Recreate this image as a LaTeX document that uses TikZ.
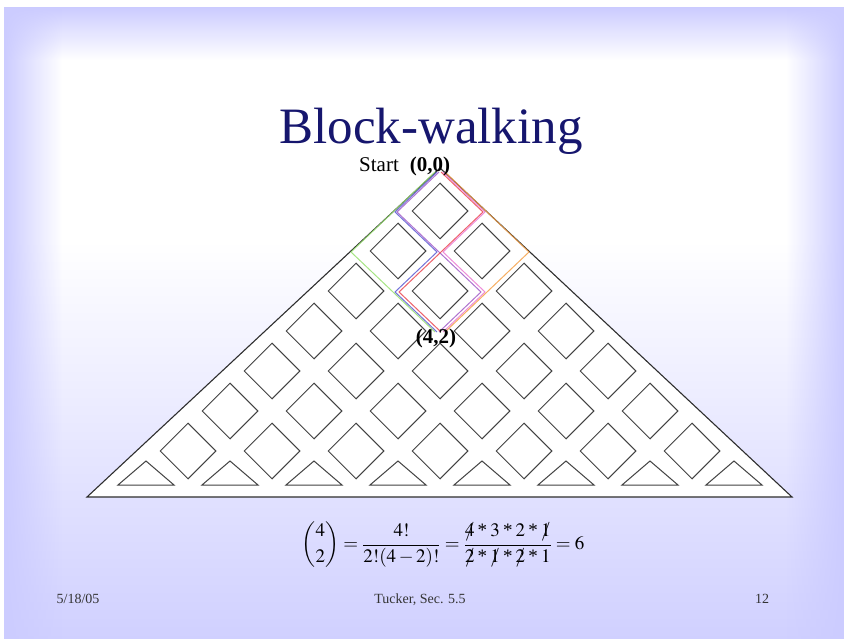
\documentclass[tikz,border=0pt]{standalone}
\usepackage{amsmath}
\usepackage{mathptmx}
\usepackage{fontspec}
\setmainfont{Liberation Serif}
\usetikzlibrary{shapes.geometric, fadings}
\definecolor{lav}{RGB}{204,204,255}
\definecolor{titleblue}{RGB}{22,22,110}
\definecolor{gridgray}{RGB}{66,66,66}
\definecolor{walkgreen}{RGB}{150,225,110}
\definecolor{walkblue}{RGB}{90,90,210}
\definecolor{walkpurple}{RGB}{160,90,200}
\definecolor{walkred}{RGB}{235,70,80}
\definecolor{walkpink}{RGB}{235,120,210}
\definecolor{walkorange}{RGB}{245,160,70}
\tikzfading[name=faderight, left color=transparent!0, right color=transparent!100]
\tikzfading[name=fadeleft, left color=transparent!100, right color=transparent!0]
\tikzset{block/.style={diamond,draw=gridgray,fill=white,line width=1pt,inner sep=0pt,minimum width=56pt,minimum height=56pt},
  halfblock/.style={draw=gridgray,fill=white,line width=1pt},
  walk/.style={line width=1pt,opacity=0.85},
  lbl/.style={inner sep=0pt,font=\fontsize{21}{24}\selectfont\bfseries},
  footer/.style={inner sep=0pt,text=black!80,font=\fontsize{14}{16}\selectfont}}
\newcommand\crossout[1]{\mbox{\ooalign{$#1$\cr\hfil$/$\hfil\cr}}}
\newcommand\tm{\mbox{\,*\,}}

\begin{document}
\begin{tikzpicture}[x=1pt,y=-1pt]
\useasboundingbox (0,0) rectangle (844,639);
% slide background
\fill[lav] (4,8) rectangle (844,639);
\shade[top color=lav, bottom color=white] (4,8) rectangle (844,60);
\fill[white] (4,60) rectangle (844,240);
\shade[top color=white, bottom color=lav!92!white] (4,240) rectangle (844,639);
\fill[lav, path fading=faderight] (4,8) rectangle (62,639);
\fill[lav, path fading=fadeleft] (786,8) rectangle (844,639);

\node[text=titleblue, font=\fontsize{51}{60}\selectfont, anchor=base, inner sep=0pt] (title) at (431,144) {Block-walking};

% the city
\draw[gridgray!70!black, fill=white, line width=1.1pt, line join=miter] (440,168) -- (792,497) -- (87,497) -- cycle;
\foreach \r in {0,...,6}{
  \foreach \j in {0,...,\r}{
    \pgfmathsetmacro\cx{440+(2*\j-\r)*42}
    \pgfmathsetmacro\cy{211+40*\r}
    \node[block] (d-\r-\j) at (\cx,\cy) {};
  }
}
\foreach \j in {0,...,7}{
  \pgfmathsetmacro\cx{440+(2*\j-7)*42}
  \draw[halfblock] ({\cx-28},485) -- (\cx,461) -- ({\cx+28},485) -- cycle;
}

% street corners
\foreach \n in {0,...,4}{
  \foreach \k in {0,...,\n}{
    \coordinate (p-\n-\k) at ({440+(2*\k-\n)*42},{172+40*\n});
  }
}
% the six walks
\foreach \col/\off/\ka/\kb/\kc in {walkgreen/-5pt/0/0/1, walkblue/-3pt/0/1/1, walkpurple/-1pt/0/1/2,
    walkred/1pt/1/1/1, walkpink/3pt/1/1/2, walkorange/5pt/1/2/2}
  \draw[walk, \col] ([xshift=\off]p-0-0) -- ([xshift=\off]p-1-\ka) -- ([xshift=\off]p-2-\kb)
    -- ([xshift=\off]p-3-\kc) -- ([xshift=\off]p-4-2);

\node[inner sep=0pt, font=\fontsize{21}{24}\selectfont, anchor=base] (start) at (379,172) {Start};
\node[lbl, anchor=base] (origin) at (430,172) {(0,0)};
\node[lbl, anchor=base] (goal) at (436,344) {(4,2)};

\node[font=\fontsize{19}{23}\selectfont] (formula) at (443,545)
  {$\displaystyle\binom{4}{2}=\frac{4!}{2!(4-2)!}=\frac{\crossout{4}\tm3\tm2\tm\crossout{1}}{\crossout{2}\tm\crossout{1}\tm\crossout{2}\tm1}=6$};

\node[footer, anchor=base] (date) at (78,603) {5/18/05};
\node[footer, anchor=base] (source) at (420,603) {Tucker, Sec. 5.5};
\node[footer, anchor=base] (page) at (762,603) {12};
\end{tikzpicture}
\end{document}
